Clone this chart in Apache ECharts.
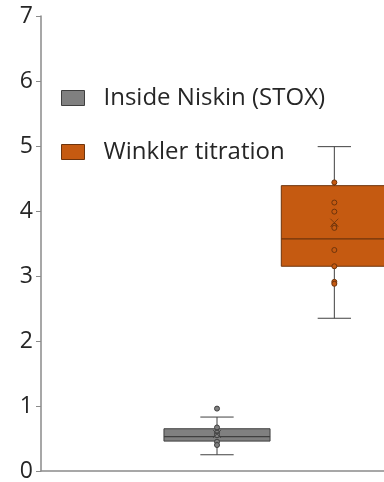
<!DOCTYPE html>
<html>
<head>
<meta charset="utf-8">
<script src="https://cdn.jsdelivr.net/npm/echarts@6/dist/echarts.min.js"></script>
<style>html,body{margin:0;padding:0;background:#fff;}#c{width:384px;height:482px;}</style>
</head>
<body>
<div id="c"></div>
<script>
// ---- data ----
const categories = ['', 'Inside Niskin (STOX)', 'Winkler titration'];
const seriesNames = ['Inside Niskin (STOX)', 'Winkler titration'];
// [low whisker, Q1, median, Q3, high whisker]
const niskinBox = [0.25, 0.46, 0.53, 0.65, 0.83];
const winklerBox = [2.35, 3.15, 3.57, 4.39, 4.99];
const niskinPoints = [0.96, 0.67, 0.59, 0.55, 0.45, 0.40];
const winklerPoints = [4.44, 4.13, 3.99, 3.77, 3.74, 3.40, 3.15, 2.91, 2.88];
const niskinMean = [0.57];
const winklerMean = [3.82];
const yMin = 0, yMax = 7, yInterval = 1;

// ---- styles ----
const greyFill = '#808080', greyEdge = '#3f3f3f';
const orangeFill = '#C55A11', orangeEdge = '#6e340c';
const whiskerColor = '#404040';
const FONT = 'Open Sans';

function boxRender(fill, edge) {
  return function (params, api) {
    const x = api.value(0);
    const low = api.coord([x, api.value(1)]);
    const q1 = api.coord([x, api.value(2)]);
    const med = api.coord([x, api.value(3)]);
    const q3 = api.coord([x, api.value(4)]);
    const high = api.coord([x, api.value(5)]);
    const bw = api.size([1, 0])[0];
    const half = bw * 0.452;
    const cap = bw * 0.142;
    const cx = low[0];
    const lineStyle = { stroke: whiskerColor, lineWidth: 1 };
    return {
      type: 'group',
      children: [
        { type: 'line', shape: { x1: cx, y1: high[1], x2: cx, y2: low[1] }, style: lineStyle },
        { type: 'line', shape: { x1: cx - cap, y1: high[1], x2: cx + cap, y2: high[1] }, style: lineStyle },
        { type: 'line', shape: { x1: cx - cap, y1: low[1], x2: cx + cap, y2: low[1] }, style: lineStyle },
        { type: 'rect', shape: { x: cx - half, y: q3[1], width: half * 2, height: q1[1] - q3[1] },
          style: { fill: fill, stroke: edge, lineWidth: 1 } },
        { type: 'line', shape: { x1: cx - half, y1: med[1], x2: cx + half, y2: med[1] }, style: { stroke: edge, lineWidth: 1.2 } }
      ]
    };
  };
}

const xMark = 'path://M0,0L10,10M10,0L0,10';

const chart = echarts.init(document.getElementById('c'), null, { renderer: 'canvas' });
chart.setOption({
  animation: false,
  backgroundColor: '#ffffff',
  grid: { left: 41, width: 352, top: 16, bottom: 11, containLabel: false, outerBoundsMode: 'none' },
  legend: {
    orient: 'vertical', left: 61, top: 85, padding: 0,
    itemWidth: 23, itemHeight: 15, itemGap: 28,
    textStyle: { fontFamily: FONT, fontSize: 24, color: '#262626', lineHeight: 26, padding: [0, 0, 0, 14] },
    data: [
      { name: seriesNames[0], icon: 'rect', itemStyle: { color: greyFill, borderColor: greyEdge, borderWidth: 1 } },
      { name: seriesNames[1], icon: 'rect', itemStyle: { color: orangeFill, borderColor: orangeEdge, borderWidth: 1 } }
    ]
  },
  xAxis: {
    type: 'category', data: categories, boundaryGap: true,
    axisLine: { lineStyle: { color: '#8a8a8a', width: 1.5 } },
    axisTick: { show: false }, axisLabel: { show: false }, splitLine: { show: false }
  },
  yAxis: {
    type: 'value', min: yMin, max: yMax, interval: yInterval,
    axisLine: { show: true, lineStyle: { color: '#8a8a8a', width: 1.5 } },
    axisTick: { show: true, inside: false, length: 5, lineStyle: { color: '#8a8a8a' } },
    axisLabel: { fontFamily: FONT, fontSize: 23, color: '#262626', margin: 8 },
    splitLine: { show: false }
  },
  series: [
    { name: seriesNames[0], type: 'custom', renderItem: boxRender(greyFill, greyEdge),
      itemStyle: { color: greyFill }, encode: { x: 0, y: [1, 2, 3, 4, 5] },
      data: [[1].concat(niskinBox)], z: 2 },
    { name: seriesNames[1], type: 'custom', renderItem: boxRender(orangeFill, orangeEdge),
      itemStyle: { color: orangeFill }, encode: { x: 0, y: [1, 2, 3, 4, 5] },
      data: [[2].concat(winklerBox)], z: 2 },
    { type: 'scatter', symbol: 'circle', symbolSize: 5, z: 3,
      itemStyle: { color: greyFill, borderColor: greyEdge, borderWidth: 1, opacity: 1 },
      data: niskinPoints.map(v => [1, v]) },
    { type: 'scatter', symbol: 'circle', symbolSize: 5, z: 3,
      itemStyle: { color: orangeFill, borderColor: orangeEdge, borderWidth: 1, opacity: 1 },
      data: winklerPoints.map(v => [2, v]) },
    { type: 'scatter', symbol: xMark, symbolSize: 8, z: 4,
      itemStyle: { color: 'none', borderColor: greyEdge, borderWidth: 1 },
      data: niskinMean.map(v => [1, v]) },
    { type: 'scatter', symbol: xMark, symbolSize: 8, z: 4,
      itemStyle: { color: 'none', borderColor: orangeEdge, borderWidth: 1 },
      data: winklerMean.map(v => [2, v]) }
  ]
});
</script>
</body>
</html>
